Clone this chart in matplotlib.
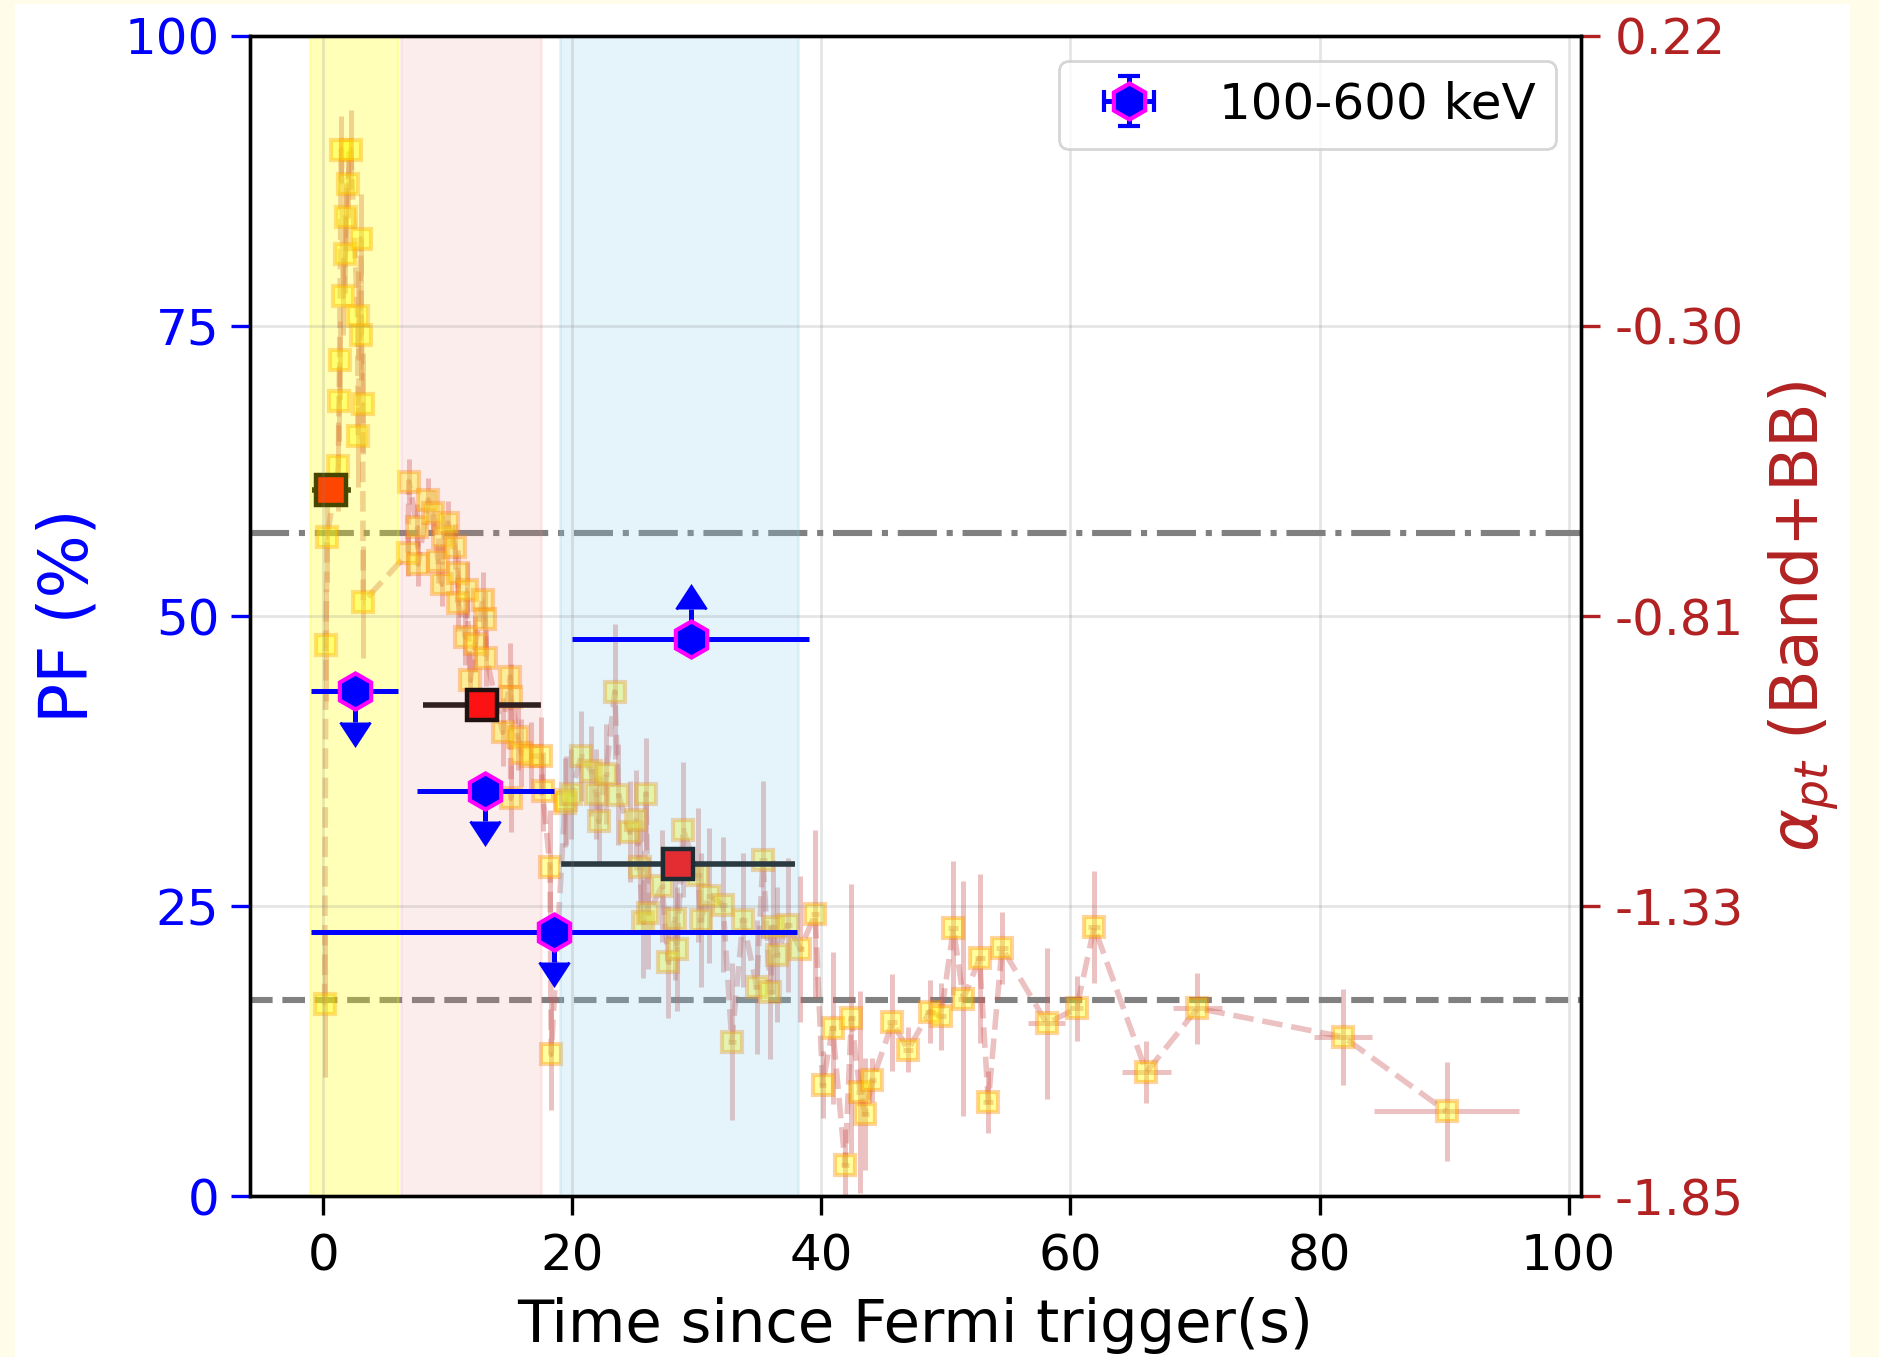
import matplotlib.pyplot as plt
import numpy as np
from matplotlib.patches import Rectangle

# time-resolved low-energy index from Band+BB fits
t_pt = [0.10, 0.20, 0.30, 1.20, 1.25, 1.30, 1.45, 1.60, 1.75, 1.80, 1.95, 2.20,
        2.75, 2.80, 3.00, 3.05, 3.15, 3.20,
        6.80, 6.86, 7.55, 7.60, 8.42, 8.80, 9.20, 9.50, 9.60, 10.0, 10.56, 10.8,
        10.85, 11.4, 11.5, 11.8, 12.2, 12.8, 13.0, 13.1, 14.4, 15.0, 15.05, 15.1,
        15.6, 15.9, 16.7, 17.5, 17.6, 18.2, 18.3,
        19.4, 19.5, 19.9, 20.7, 21.5, 21.9, 22.1, 22.7, 23.4, 23.7, 24.6, 25.1,
        25.4, 25.7, 25.9, 26.1, 27.2, 27.7, 28.2, 28.4, 28.9, 30.1, 30.3, 31.0,
        32.1, 32.8, 33.7, 34.8, 35.3, 35.9, 36.1, 36.4, 37.3, 38.3, 39.5,
        40.1, 40.9, 41.9, 42.4, 43.1, 43.5, 44.1, 45.7, 46.95, 48.7, 49.6, 50.6,
        51.4, 52.7, 53.4, 54.5, 58.1, 60.5, 61.9, 66.1, 70.2, 81.9, 90.2]
t_pt_err = [0.05, 0.05, 0.05, 0.05, 0.05, 0.05, 0.05, 0.05, 0.05, 0.05, 0.05, 0.05,
            0.05, 0.05, 0.05, 0.05, 0.05, 0.05,
            0.1, 0.1, 0.1, 0.1, 0.1, 0.1, 0.1, 0.1, 0.1, 0.1, 0.1, 0.1,
            0.1, 0.1, 0.1, 0.1, 0.1, 0.1, 0.1, 0.1, 0.1, 0.1, 0.1, 0.1,
            0.1, 0.1, 0.1, 0.1, 0.1, 0.1, 0.1,
            0.2, 0.2, 0.2, 0.2, 0.2, 0.2, 0.2, 0.2, 0.2, 0.2, 0.2, 0.2,
            0.2, 0.2, 0.2, 0.2, 0.2, 0.2, 0.2, 0.2, 0.2, 0.3, 0.3, 0.3,
            0.3, 0.3, 0.3, 0.3, 0.3, 0.3, 0.3, 0.3, 0.3, 0.3, 0.3,
            0.3, 0.3, 0.3, 0.3, 0.3, 0.3, 0.3, 0.4, 0.4, 0.4, 0.4, 0.4,
            0.4, 0.4, 0.4, 0.5, 1.5, 0.5, 0.5, 2.0, 2.0, 2.35, 5.8]
alpha_pt = [-1.508, -0.867, -0.674, -0.548, -0.432, -0.358, 0.017, -0.244, -0.169, -0.103, -0.045, 0.017,
            -0.279, -0.494, -0.142, -0.314, -0.436, -0.790,
            -0.703, -0.575, -0.656, -0.722, -0.608, -0.631, -0.716, -0.757, -0.674, -0.649, -0.691, -0.738,
            -0.792, -0.852, -0.769, -0.929, -0.865, -0.786, -0.821, -0.890, -1.022, -0.923, -1.140, -0.960,
            -1.030, -1.059, -1.065, -1.065, -1.128, -1.262, -1.597,
            -1.148, -1.144, -1.132, -1.065, -1.092, -1.132, -1.181, -1.097, -0.950, -1.134, -1.200, -1.179,
            -1.262, -1.361, -1.132, -1.345, -1.297, -1.432, -1.355, -1.409, -1.196, -1.277, -1.357, -1.314,
            -1.330, -1.575, -1.357, -1.477, -1.250, -1.486, -1.370, -1.419, -1.366, -1.409, -1.347,
            -1.651, -1.550, -1.794, -1.533, -1.664, -1.703, -1.643, -1.540, -1.589, -1.521, -1.529, -1.372,
            -1.498, -1.426, -1.682, -1.407, -1.542, -1.515, -1.370, -1.629, -1.515, -1.566, -1.699]
alpha_pt_err = [0.13, 0.10, 0.08, 0.08, 0.07, 0.07, 0.06, 0.07, 0.07, 0.06, 0.06, 0.07,
                0.08, 0.09, 0.08, 0.08, 0.09, 0.10,
                0.04, 0.04, 0.04, 0.04, 0.04, 0.04, 0.04, 0.04, 0.04, 0.04, 0.04, 0.04,
                0.05, 0.05, 0.05, 0.05, 0.05, 0.05, 0.05, 0.05, 0.06, 0.06, 0.06, 0.06,
                0.06, 0.06, 0.06, 0.07, 0.07, 0.10, 0.10,
                0.08, 0.08, 0.08, 0.08, 0.08, 0.08, 0.08, 0.09, 0.12, 0.09, 0.09, 0.09,
                0.10, 0.10, 0.10, 0.10, 0.10, 0.10, 0.11, 0.11, 0.12, 0.12, 0.12, 0.12,
                0.12, 0.14, 0.12, 0.12, 0.14, 0.12, 0.12, 0.12, 0.12, 0.13, 0.15,
                0.06, 0.135, 0.064, 0.24, 0.18, 0.10, 0.04, 0.086, 0.04, 0.056, 0.06, 0.12,
                0.21, 0.15, 0.056, 0.064, 0.134, 0.058, 0.10, 0.055, 0.063, 0.085, 0.088]

# interval-averaged index
t_avg = [0.65, 12.75, 28.5]
t_avg_err = [1.55, 4.75, 9.4]
alpha_avg = [-0.591, -0.974, -1.258]

# polarization fraction limits in 100-600 keV
t_pf = [2.5, 13.0, 18.5, 29.5]
t_pf_err = [3.5, 5.5, 19.5, 9.5]
pf = [43.5, 34.9, 22.8, 48.0]
pf_upper = [True, True, True, False]

# pulse intervals
intervals = [(-1.1, 6.0), (6.25, 17.5), (19.0, 38.1)]
interval_colors = ['yellow', 'lightcoral', 'skyblue']
interval_alphas = [0.28, 0.14, 0.22]

alpha_ticks = np.linspace(-1.85, 0.22, 5)
alpha_ticklabels = ['-1.85', '-1.33', '-0.81', '-0.30', '0.22']

fig = plt.figure(figsize=(9.395, 6.785), dpi=200, facecolor='#fffcea')
fig.patches.append(Rectangle((15 / 1879, 0), 1835 / 1879, 1353 / 1357,
                             transform=fig.transFigure, facecolor='white',
                             edgecolor='none', zorder=-1))

ax1 = fig.add_axes([0.133, 0.1186, 0.7084, 0.8549])
ax2 = ax1.twinx()

# right axis: synchrotron limits, index points, intervals
ax2.axhline(-2 / 3, color='gray', ls='-.', lw=2.2, zorder=1)
ax2.axhline(-1.5, color='gray', ls='--', lw=2.2, zorder=1)
ax2.errorbar(t_pt, alpha_pt, xerr=t_pt_err, yerr=alpha_pt_err, fmt='s--',
             color='indianred', ecolor='indianred', mfc='yellow', mec='darkorange',
             ms=7, mew=1.5, lw=2.0, elinewidth=1.8, alpha=0.38, zorder=2)
ax2.errorbar(t_avg, alpha_avg, xerr=t_avg_err, fmt='s', ecolor='#111111',
             mfc='red', mec='black', ms=11, mew=1.6, elinewidth=2.0, zorder=3)
for (lo, hi), c, a in zip(intervals, interval_colors, interval_alphas):
    ax2.axvspan(lo, hi, color=c, alpha=a, zorder=4)

# left axis on top: PF limits
ax1.set_zorder(ax2.get_zorder() + 1)
ax1.patch.set_visible(False)
ax1.grid(True, color='0.5', alpha=0.2, lw=1.0)
ax1.set_axisbelow(True)

ax1.errorbar(t_pf, pf, xerr=t_pf_err, fmt='none', ecolor='blue', elinewidth=1.8, zorder=5)
lims = ax1.errorbar(t_pf, pf, yerr=[2.6] * 4, uplims=pf_upper,
                    lolims=[not u for u in pf_upper],
                    fmt='none', ecolor='blue', elinewidth=1.8, capsize=5.5, zorder=5)
for cap in lims[1]:
    cap.set_markerfacecolor('blue')
    cap.set_markeredgecolor('blue')
ax1.plot(t_pf, pf, 'h', color='blue', mec='magenta', ms=13, mew=1.5, zorder=6)
ax1.errorbar([np.nan], [np.nan], xerr=[1], yerr=[1], fmt='h', color='blue', mec='magenta',
             ms=13, mew=1.5, elinewidth=1.8, capsize=4, label='100-600 keV')

ax1.set_xlim(-5.9, 101)
ax1.set_ylim(0, 100)
ax2.set_ylim(-1.85, 0.22)
ax1.set_xticks([0, 20, 40, 60, 80, 100])
ax1.set_yticks([0, 25, 50, 75, 100])
ax2.set_yticks(alpha_ticks)
ax2.set_yticklabels(alpha_ticklabels)

ax1.tick_params(axis='x', labelsize=18, length=7, width=1.2, pad=6)
ax1.tick_params(axis='y', colors='blue', labelsize=18, length=7, width=1.2, pad=4)
ax2.tick_params(axis='y', colors='firebrick', labelsize=18, length=7, width=1.2, pad=5)
for ax in (ax1, ax2):
    for s in ax.spines.values():
        s.set_linewidth(1.2)

ax1.set_xlabel('Time since Fermi trigger(s)', fontsize=21.3, labelpad=6)
ax1.set_ylabel('PF (%)', color='blue', fontsize=24, labelpad=8)
ax2.set_ylabel(r'$\alpha_{pt}$ (Band+BB)', color='firebrick', fontsize=23.5, labelpad=8)
ax1.legend(loc='upper right', fontsize=18)

fig.savefig('out.png', dpi=200, facecolor=fig.get_facecolor())
